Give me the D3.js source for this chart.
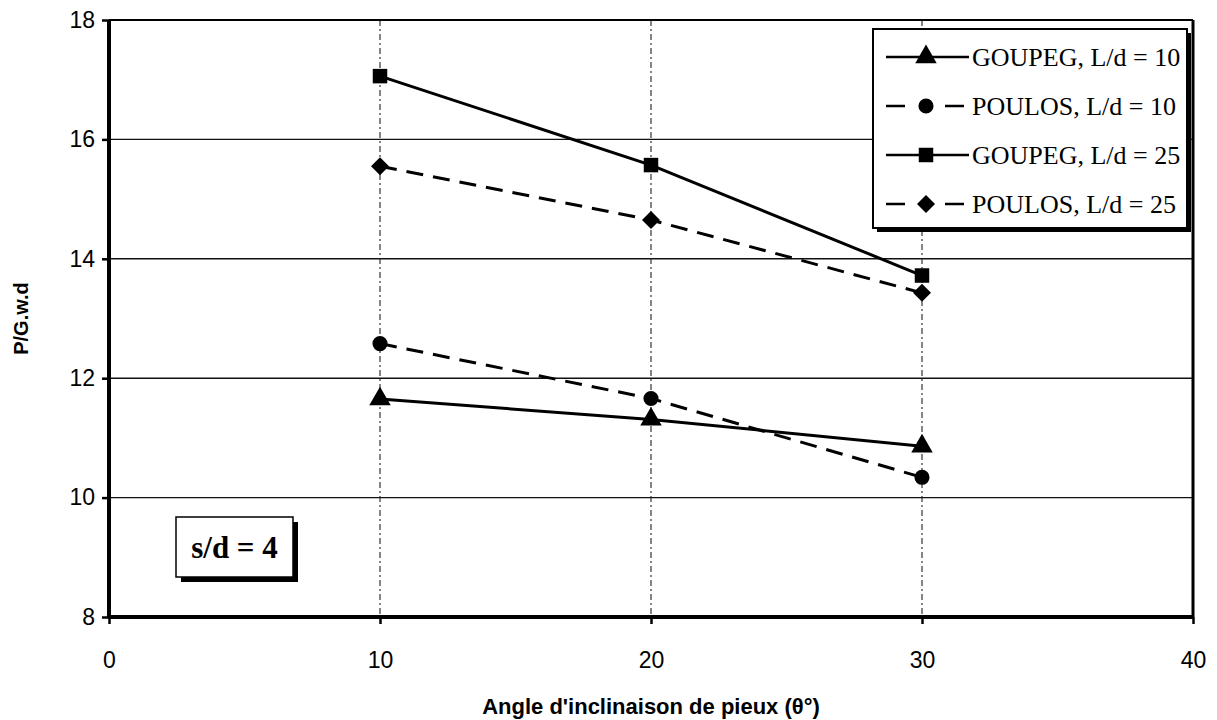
<!DOCTYPE html>
<html>
<head>
<meta charset="utf-8">
<script src="https://cdn.jsdelivr.net/npm/d3@7"></script>
<style>
  html, body { margin: 0; padding: 0; background: #fff; }
  svg { display: block; }
</style>
</head>
<body>
<svg id="chart" width="1217" height="720"></svg>
<script>
// ---- data ----
const angles = [10, 20, 30];
const goupeg10 = [11.65, 11.31, 10.86];
const poulos10 = [12.58, 11.66, 10.34];
const goupeg25 = [17.06, 15.57, 13.72];
const poulos25 = [15.55, 14.65, 13.43];
const seriesNames = ["GOUPEG, L/d = 10", "POULOS, L/d = 10", "GOUPEG, L/d = 25", "POULOS, L/d = 25"];
const xTicks = [0, 10, 20, 30, 40];
const yTicks = [8, 10, 12, 14, 16, 18];
const xTitle = "Angle d'inclinaison de pieux (\u03B8\u00B0)";
const yTitle = "P/G.w.d";
const noteText = "s/d = 4";

const series = [
  { name: seriesNames[0], values: goupeg10, dashed: false, marker: "triangle" },
  { name: seriesNames[1], values: poulos10, dashed: true,  marker: "circle" },
  { name: seriesNames[2], values: goupeg25, dashed: false, marker: "square" },
  { name: seriesNames[3], values: poulos25, dashed: true,  marker: "diamond" }
];

const svg = d3.select("#chart");
const L = 109, R = 1193, T = 20, B = 617;
const x = d3.scaleLinear().domain([0, 40]).range([L, R]);
const y = d3.scaleLinear().domain([8, 18]).range([B, T]);

const diamondPath = "M0,-9L9,0L0,9L-9,0Z";
const sym = {
  triangle: d3.symbol().type(d3.symbolTriangle).size(200)(),
  circle: d3.symbol().type(d3.symbolCircle).size(180)(),
  square: d3.symbol().type(d3.symbolSquare).size(210)(),
  diamond: diamondPath
};

const sans = "Arial, 'Liberation Sans', sans-serif";
const serif = "'Liberation Serif', 'Times New Roman', serif";

// horizontal gridlines
svg.append("g").selectAll("line").data(yTicks.filter(v => v > 8 && v < 18)).join("line")
  .attr("x1", L).attr("x2", R).attr("y1", d => y(d)).attr("y2", d => y(d))
  .attr("stroke", "#111").attr("stroke-width", 1.4);

// vertical gridlines (dashed)
svg.append("g").selectAll("line").data(xTicks.filter(v => v > 0 && v < 40)).join("line")
  .attr("x1", d => x(d)).attr("x2", d => x(d)).attr("y1", T).attr("y2", B)
  .attr("stroke", "#222").attr("stroke-width", 1.1).attr("stroke-dasharray", "6,3,2,3");

// top and right borders
svg.append("line").attr("x1", L).attr("x2", R).attr("y1", T).attr("y2", T)
  .attr("stroke", "#000").attr("stroke-width", 2);
svg.append("line").attr("x1", R).attr("x2", R).attr("y1", T).attr("y2", B)
  .attr("stroke", "#000").attr("stroke-width", 3);

// axes
const yAxis = d3.axisLeft(y).tickValues(yTicks).tickSize(7).tickPadding(7).tickFormat(d3.format("d"));
const gy = svg.append("g").attr("transform", `translate(${L},0)`).call(yAxis);
gy.select(".domain").attr("stroke-width", 4).attr("d", `M0,${T}V${B}`);
gy.selectAll(".tick line").attr("stroke-width", 2.5);
gy.selectAll(".tick text").attr("font-family", sans).attr("font-size", 23).attr("fill", "#000");

const xAxis = d3.axisBottom(x).tickValues(xTicks).tickSize(7).tickPadding(28).tickFormat(d3.format("d"));
const gx = svg.append("g").attr("transform", `translate(0,${B})`).call(xAxis);
gx.select(".domain").attr("stroke-width", 4).attr("d", `M${L},0H${R}`);
gx.selectAll(".tick line").attr("stroke-width", 2.5);
gx.selectAll(".tick text").attr("font-family", sans).attr("font-size", 23).attr("fill", "#000");

// titles
svg.append("text").attr("x", (L + R) / 2).attr("y", 714).attr("text-anchor", "middle")
  .attr("font-family", sans).attr("font-weight", "bold").attr("font-size", 22)
  .text(xTitle);
svg.append("text").attr("transform", `translate(28,${(T + B) / 2}) rotate(-90)`).attr("text-anchor", "middle")
  .attr("font-family", sans).attr("font-weight", "bold").attr("font-size", 20)
  .text(yTitle);

// series
const line = d3.line().x((d, i) => x(angles[i])).y(d => y(d));
const gs = svg.append("g");
series.forEach(s => {
  gs.append("path").attr("d", line(s.values)).attr("fill", "none").attr("stroke", "#000")
    .attr("stroke-width", 3).attr("stroke-dasharray", s.dashed ? "17,10" : null);
  gs.append("g").selectAll("path").data(s.values).join("path")
    .attr("transform", (d, i) => `translate(${x(angles[i])},${y(d)})`)
    .attr("d", sym[s.marker]).attr("fill", "#000");
});

// legend
const lg = svg.append("g");
const lx = 873, ly = 29, lw = 314, lh = 199;
lg.append("rect").attr("x", lx + 4).attr("y", ly + 4).attr("width", lw).attr("height", lh).attr("fill", "#000");
lg.append("rect").attr("x", lx).attr("y", ly).attr("width", lw).attr("height", lh)
  .attr("fill", "#fff").attr("stroke", "#000").attr("stroke-width", 2);
series.forEach((s, i) => {
  const cy = ly + 28 + i * 49;
  const x1 = lx + 13, x2 = s.dashed ? lx + 91 : lx + 96;
  lg.append("line").attr("x1", x1).attr("x2", x2).attr("y1", cy).attr("y2", cy)
    .attr("stroke", "#000").attr("stroke-width", 2.5).attr("stroke-dasharray", s.dashed ? "19,40,19" : null);
  lg.append("path").attr("transform", `translate(${lx + 53},${cy})`).attr("d", sym[s.marker]).attr("fill", "#000");
  lg.append("text").attr("x", lx + 99).attr("y", cy + 9)
    .attr("font-family", serif).attr("font-size", 26)
    .text(s.name);
});

// note box
const nb = svg.append("g");
const nx = 176, ny = 517, nw = 117, nh = 60;
nb.append("rect").attr("x", nx + 5).attr("y", ny + 5).attr("width", nw).attr("height", nh).attr("fill", "#000");
nb.append("rect").attr("x", nx).attr("y", ny).attr("width", nw).attr("height", nh)
  .attr("fill", "#fff").attr("stroke", "#000").attr("stroke-width", 1.5);
nb.append("text").attr("x", nx + nw / 2).attr("y", ny + 41).attr("text-anchor", "middle")
  .attr("font-family", serif).attr("font-weight", "bold").attr("font-size", 31)
  .text(noteText);
</script>
</body>
</html>
